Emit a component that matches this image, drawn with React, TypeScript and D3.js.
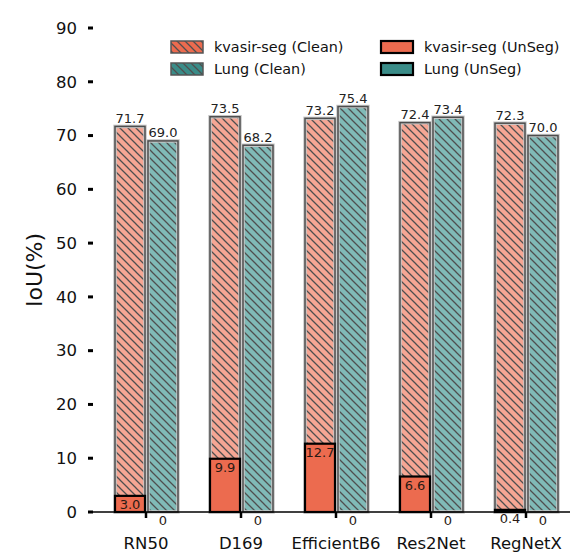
import { useRef, useEffect } from "react";
import * as d3 from "d3";

const categories = ["RN50", "D169", "EfficientB6", "Res2Net", "RegNetX"];
const kvasirClean = [71.7, 73.5, 73.2, 72.4, 72.3];
const lungClean = [69.0, 68.2, 75.4, 73.4, 70.0];
const kvasirUnseg = [3.0, 9.9, 12.7, 6.6, 0.4];
const lungUnseg = [0, 0, 0, 0, 0];
const yTicks = [0, 10, 20, 30, 40, 50, 60, 70, 80, 90];

const KV_LIGHT = "#f5a694";
const KV_DARK = "#ec6b4f";
const LU_LIGHT = "#80bab7";
const LU_DARK = "#3a8c88";

export default function App() {
  const svgRef = useRef<SVGSVGElement>(null);

  useEffect(() => {
    if (!svgRef.current) return;
    const svg = d3.select(svgRef.current);
    svg.selectAll("*").remove();

    const width = 570;
    const height = 554;
    svg.attr("width", width).attr("height", height).attr("font-family", "DejaVu Sans");

    const y = d3.scaleLinear().domain([0, 90]).range([512, 28]);
    const x = d3.scalePoint<string>().domain(categories).range([146, 526]);
    const barW = 30;

    // hatch patterns
    const defs = svg.append("defs");
    const hatch = (id: string, bg: string) => {
      const s = 8;
      const p = defs
        .append("pattern")
        .attr("id", id)
        .attr("patternUnits", "userSpaceOnUse")
        .attr("width", s)
        .attr("height", s);
      p.append("rect").attr("width", s).attr("height", s).attr("fill", bg);
      p.append("path")
        .attr("d", `M-1,-1 L${s + 1},${s + 1} M-1,${s - 1} L1,${s + 1} M${s - 1},-1 L${s + 1},1`)
        .attr("stroke", "#4f4f4f")
        .attr("stroke-width", 1.3);
    };
    hatch("kvHatch", KV_LIGHT);
    hatch("luHatch", LU_LIGHT);
    hatch("kvHatchLeg", KV_DARK);
    hatch("luHatchLeg", LU_DARK);

    const g = svg.append("g");

    // clean bars
    const cleanBars = (vals: number[], dx: number, fill: string) => {
      g.selectAll(null)
        .data(vals)
        .enter()
        .append("rect")
        .attr("x", (_d, i) => (x(categories[i]) as number) + dx)
        .attr("y", (d) => y(d))
        .attr("width", barW)
        .attr("height", (d) => y(0) - y(d))
        .attr("fill", fill)
        .attr("stroke", "#c8c8c8")
        .attr("stroke-width", 3.5);
      g.selectAll(null)
        .data(vals)
        .enter()
        .append("rect")
        .attr("x", (_d, i) => (x(categories[i]) as number) + dx)
        .attr("y", (d) => y(d))
        .attr("width", barW)
        .attr("height", (d) => y(0) - y(d))
        .attr("fill", "none")
        .attr("stroke", "#4d4d4d")
        .attr("stroke-width", 1.5);
      g.selectAll(null)
        .data(vals)
        .enter()
        .append("text")
        .attr("x", (_d, i) => (x(categories[i]) as number) + dx + barW / 2)
        .attr("y", (d) => y(d) - 3.5)
        .attr("text-anchor", "middle")
        .attr("font-size", 13)
        .attr("fill", "#222")
        .text((d) => d3.format(".1f")(d));
    };
    cleanBars(kvasirClean, -31, "url(#kvHatch)");
    cleanBars(lungClean, 2, "url(#luHatch)");

    // unseg bars
    const unsegBars = (vals: number[], dx: number, fill: string, fmt: (v: number) => string) => {
      g.selectAll(null)
        .data(vals)
        .enter()
        .append("rect")
        .attr("x", (_d, i) => (x(categories[i]) as number) + dx)
        .attr("y", (d) => y(d))
        .attr("width", barW)
        .attr("height", (d) => y(0) - y(d))
        .attr("fill", fill)
        .attr("stroke", "#000")
        .attr("stroke-width", 2.2);
      g.selectAll(null)
        .data(vals)
        .enter()
        .append("text")
        .attr("x", (_d, i) => (x(categories[i]) as number) + dx + barW / 2)
        .attr("y", (d) => y(d) + 13)
        .attr("text-anchor", "middle")
        .attr("font-size", 13)
        .attr("fill", "#2a1a14")
        .text((d) => fmt(d));
    };
    unsegBars(kvasirUnseg, -31, KV_DARK, (v) => d3.format(".1f")(v));
    unsegBars(lungUnseg, 2, LU_DARK, (v) => String(v));

    // bottom axis
    g.append("line")
      .attr("x1", 88)
      .attr("x2", width)
      .attr("y1", y(0))
      .attr("y2", y(0))
      .attr("stroke", "#000")
      .attr("stroke-width", 1.3);
    g.selectAll(null)
      .data(categories)
      .enter()
      .append("line")
      .attr("x1", (d) => x(d) as number)
      .attr("x2", (d) => x(d) as number)
      .attr("y1", y(0))
      .attr("y2", y(0) + 6)
      .attr("stroke", "#000")
      .attr("stroke-width", 2.5);
    g.selectAll(null)
      .data(categories)
      .enter()
      .append("text")
      .attr("x", (d) => x(d) as number)
      .attr("y", 549)
      .attr("text-anchor", "middle")
      .attr("font-size", 16.5)
      .attr("fill", "#111")
      .text((d) => d);

    // y ticks (no spine)
    g.selectAll(null)
      .data(yTicks)
      .enter()
      .append("line")
      .attr("x1", 88)
      .attr("x2", 93)
      .attr("y1", (d) => y(d))
      .attr("y2", (d) => y(d))
      .attr("stroke", "#000")
      .attr("stroke-width", 3);
    g.selectAll(null)
      .data(yTicks)
      .enter()
      .append("text")
      .attr("x", 77)
      .attr("y", (d) => y(d))
      .attr("dy", "0.35em")
      .attr("text-anchor", "end")
      .attr("font-size", 16.5)
      .attr("fill", "#111")
      .text((d) => d);

    g.append("text")
      .attr("transform", `translate(42, 270) rotate(-90)`)
      .attr("text-anchor", "middle")
      .attr("font-size", 22)
      .attr("fill", "#111")
      .text("IoU(%)");

    // legend
    const legendItems = [
      { label: "kvasir-seg (Clean)", fill: "url(#kvHatchLeg)", stroke: "#555", sw: 1.5, lx: 171, ly: 41 },
      { label: "Lung (Clean)", fill: "url(#luHatchLeg)", stroke: "#555", sw: 1.5, lx: 171, ly: 63 },
      { label: "kvasir-seg (UnSeg)", fill: KV_DARK, stroke: "#000", sw: 2.2, lx: 381, ly: 41 },
      { label: "Lung (UnSeg)", fill: LU_DARK, stroke: "#000", sw: 2.2, lx: 381, ly: 63 },
    ];
    const leg = svg.append("g").selectAll(null).data(legendItems).enter().append("g");
    leg
      .append("rect")
      .attr("x", (d) => d.lx)
      .attr("y", (d) => d.ly)
      .attr("width", 32)
      .attr("height", 12)
      .attr("fill", (d) => d.fill)
      .attr("stroke", (d) => d.stroke)
      .attr("stroke-width", (d) => d.sw);
    leg
      .append("text")
      .attr("x", (d) => d.lx + 43)
      .attr("y", (d) => d.ly + 6)
      .attr("dy", "0.35em")
      .attr("font-size", 14.4)
      .attr("fill", "#111")
      .text((d) => d.label);
  }, []);

  return (
    <svg
      ref={svgRef}
      style={{ position: "absolute", left: 0, top: 0, display: "block", background: "#fff" }}
    />
  );
}
